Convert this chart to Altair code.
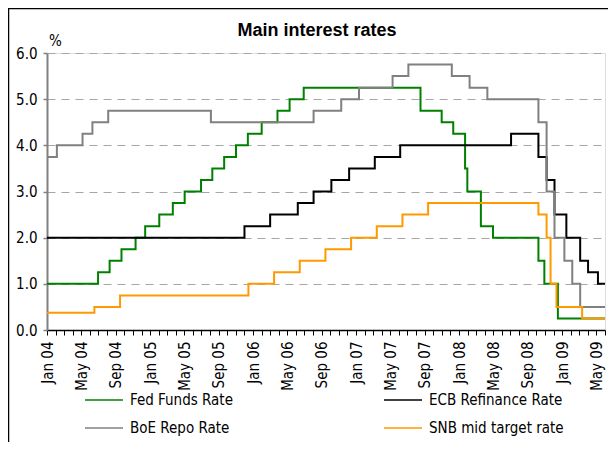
import altair as alt
import pandas as pd

# ---- data ----
series_names = ["Fed Funds Rate", "ECB Refinance Rate", "BoE Repo Rate", "SNB mid target rate"]
series_colors = ["#008000", "#000000", "#808080", "#FF9900"]
# legend grid fills column by column: this order gives rows (Fed, ECB) / (BoE, SNB)
legend_order = ["Fed Funds Rate", "BoE Repo Rate", "ECB Refinance Rate", "SNB mid target rate"]

fed_dates = ["2004-01-01", "2004-06-30", "2004-08-10", "2004-09-21", "2004-11-10", "2004-12-14",
             "2005-02-02", "2005-03-22", "2005-05-03", "2005-06-30", "2005-08-09", "2005-09-20",
             "2005-11-01", "2005-12-13", "2006-01-31", "2006-03-28", "2006-05-10", "2006-06-29",
             "2007-08-17", "2007-10-31", "2007-12-11", "2008-01-22", "2008-01-30", "2008-03-18",
             "2008-04-30", "2008-10-08", "2008-10-29", "2008-12-16", "2009-06-01"]
fed_rates = [1.00, 1.25, 1.50, 1.75, 2.00, 2.25, 2.50, 2.75, 3.00, 3.25, 3.50, 3.75, 4.00, 4.25,
             4.50, 4.75, 5.00, 5.25, 4.75, 4.50, 4.25, 3.50, 3.00, 2.25, 2.00, 1.50, 1.00, 0.25, 0.25]

ecb_dates = ["2004-01-01", "2005-12-01", "2006-03-02", "2006-06-08", "2006-08-03", "2006-10-05",
             "2006-12-07", "2007-03-08", "2007-06-06", "2008-07-03", "2008-10-08", "2008-11-06",
             "2008-12-04", "2009-01-15", "2009-03-05", "2009-04-02", "2009-05-07", "2009-06-01"]
ecb_rates = [2.00, 2.25, 2.50, 2.75, 3.00, 3.25, 3.50, 3.75, 4.00, 4.25, 3.75, 3.25, 2.50, 2.00,
             1.50, 1.25, 1.00, 1.00]

boe_dates = ["2004-01-01", "2004-02-05", "2004-05-06", "2004-06-10", "2004-08-05", "2005-08-04",
             "2006-08-03", "2006-11-09", "2007-01-11", "2007-05-10", "2007-07-05", "2007-12-06",
             "2008-02-07", "2008-04-10", "2008-10-08", "2008-11-06", "2008-12-04", "2009-01-08",
             "2009-02-05", "2009-03-05", "2009-06-01"]
boe_rates = [3.75, 4.00, 4.25, 4.50, 4.75, 4.50, 4.75, 5.00, 5.25, 5.50, 5.75, 5.50, 5.25, 5.00,
             4.50, 3.00, 2.00, 1.50, 1.00, 0.50, 0.50]

snb_dates = ["2004-01-01", "2004-06-17", "2004-09-16", "2005-12-15", "2006-03-16", "2006-06-15",
             "2006-09-14", "2006-12-14", "2007-03-15", "2007-06-14", "2007-09-13", "2008-10-08",
             "2008-11-06", "2008-11-20", "2008-12-11", "2009-03-12", "2009-06-01"]
snb_rates = [0.375, 0.50, 0.75, 1.00, 1.25, 1.50, 1.75, 2.00, 2.25, 2.50, 2.75, 2.50, 2.00, 1.00,
             0.50, 0.25, 0.25]

y_ticks = [0, 1, 2, 3, 4, 5, 6]
x_start, x_end = "2004-01-01", "2009-06-01"

# ---- build table (series order = drawing order) ----
rows = []
for name, ds, vs in zip(series_names,
                        [fed_dates, ecb_dates, boe_dates, snb_dates],
                        [fed_rates, ecb_rates, boe_rates, snb_rates]):
    for d, v in zip(ds, vs):
        rows.append({"date": d, "rate": v, "series": name})
df = pd.DataFrame(rows)

color_of = dict(zip(series_names, series_colors))

def ms(s):
    return int(pd.Timestamp(s, tz="UTC").value // 10**6)

month_ticks = [ms(d) for d in pd.date_range(x_start, x_end, freq="MS")]

FONT = "DejaVu Sans Condensed, DejaVu Sans, sans-serif"
FS = 15
W, H = 558, 277
PAD = {"left": 39, "top": 45, "right": 3, "bottom": 112}

lines = alt.Chart(df).mark_line(interpolate="step-after", strokeWidth=2).encode(
    x=alt.X("date:T",
            scale=alt.Scale(type="utc", domain=[ms(x_start), ms(x_end)]),
            axis=alt.Axis(values=month_ticks, title=None, grid=False,
                          labelExpr="utcmonth(datum.value) % 4 == 0 ? utcFormat(datum.value, '%b %y') : ''",
                          labelAngle=270, labelFont=FONT, labelFontSize=FS, labelColor="#000000",
                          labelPadding=6, labelOverlap=False, labelFlush=False,
                          tickSize=5, tickColor="#000000", tickWidth=1,
                          domainColor="#000000", domainWidth=1.5)),
    y=alt.Y("rate:Q",
            scale=alt.Scale(domain=[0, 6], nice=False, zero=True),
            axis=alt.Axis(values=y_ticks, format=".1f", title="%", titleAngle=0,
                          titleX=8, titleY=-8, titleAlign="center", titleBaseline="alphabetic",
                          titleFont=FONT, titleFontSize=FS, titleFontWeight="normal",
                          titleColor="#000000",
                          labelFont=FONT, labelFontSize=FS, labelColor="#000000", labelPadding=6,
                          tickSize=4, tickColor="#808080", tickWidth=1.5,
                          domainColor="#808080", domainWidth=2,
                          grid=True, gridColor="#A6A6A6", gridDash=[8, 6], gridWidth=1)),
    color=alt.Color("series:N",
                    scale=alt.Scale(domain=legend_order,
                                    range=[color_of[n] for n in legend_order]),
                    legend=alt.Legend(title=None, orient="none", legendX=37, legendY=327,
                                      columns=2, columnPadding=148, rowPadding=-13, padding=0,
                                      symbolType="stroke", symbolSize=1444, symbolStrokeWidth=1.5,
                                      labelFont=FONT, labelFontSize=FS, labelColor="#000000",
                                      labelOffset=6, labelLimit=300)),
)

frame_df = pd.DataFrame({"k": [0]})
left_border = alt.Chart(frame_df).mark_rule(color="#000000", strokeWidth=1.5).encode(
    x=alt.value(-38.5), y=alt.value(-45), y2=alt.value(H + PAD["bottom"]))
top_border = alt.Chart(frame_df).mark_rule(color="#000000", strokeWidth=1.5).encode(
    y=alt.value(-44.5), x=alt.value(-39), x2=alt.value(W + PAD["right"]))

chart = alt.layer(lines, left_border, top_border).properties(
    width=W, height=H,
    title=alt.TitleParams("Main interest rates", font="Liberation Sans", fontSize=18,
                          fontWeight="bold", color="#000000", anchor="middle",
                          baseline="alphabetic", offset=0, dx=-9, dy=47),
    autosize=alt.AutoSizeParams(type="none"),
    padding=PAD,
).configure_view(stroke=None).configure(background="#ffffff")

chart.save("out.html", embed_options={"renderer": "svg", "actions": False})
